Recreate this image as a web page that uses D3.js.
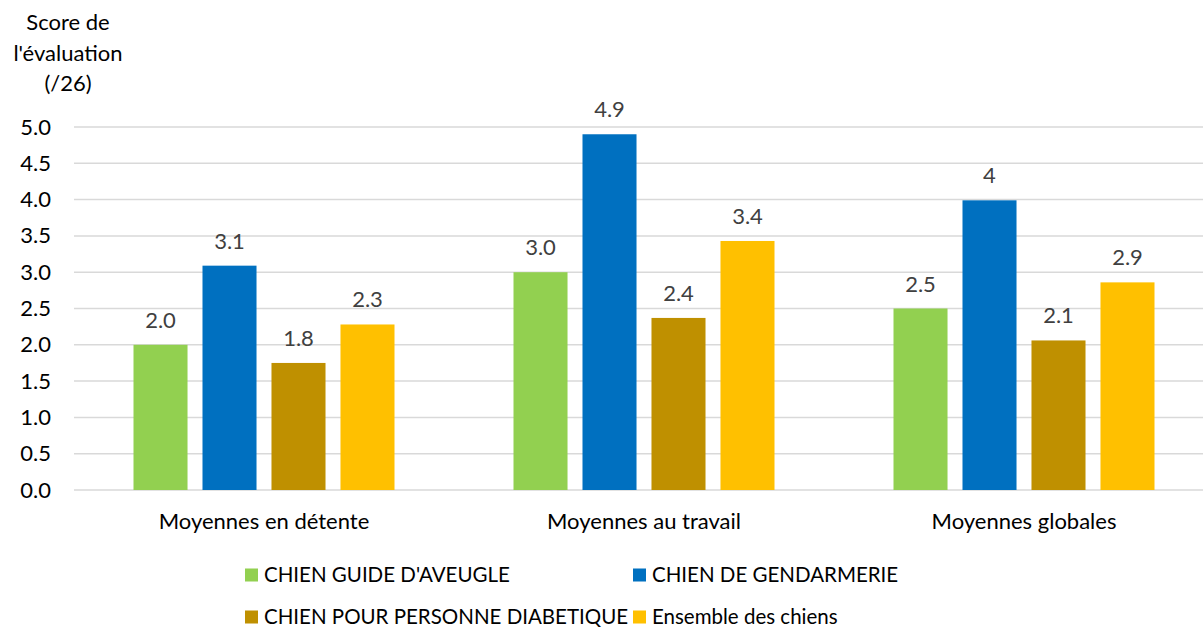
<!DOCTYPE html>
<html>
<head>
<meta charset="utf-8">
<script src="https://cdn.jsdelivr.net/npm/d3@7/dist/d3.min.js"></script>
<style>
  html, body { margin: 0; padding: 0; background: #fff; }
  svg { display: block; font-family: Lato, "Liberation Sans", sans-serif; }
</style>
</head>
<body>
<svg id="chart" width="1203" height="628"></svg>
<script>
const categories = ["Moyennes en détente", "Moyennes au travail", "Moyennes globales"];
const seriesNames = ["CHIEN GUIDE D'AVEUGLE", "CHIEN DE GENDARMERIE", "CHIEN POUR PERSONNE DIABETIQUE", "Ensemble des chiens"];
const seriesColors = ["#92d050", "#0070c0", "#bf9000", "#ffc000"];
const guideValues = [2.0, 3.0, 2.5];
const gendarmerieValues = [3.09, 4.9, 3.99];
const diabetiqueValues = [1.75, 2.37, 2.06];
const ensembleValues = [2.28, 3.43, 2.86];
const guideLabels = ["2.0", "3.0", "2.5"];
const gendarmerieLabels = ["3.1", "4.9", "4"];
const diabetiqueLabels = ["1.8", "2.4", "2.1"];
const ensembleLabels = ["2.3", "3.4", "2.9"];
const yTicks = [0, 0.5, 1, 1.5, 2, 2.5, 3, 3.5, 4, 4.5, 5];
const yTitle = ["Score de", "l'évaluation", "(/26)"];

const seriesValues = [guideValues, gendarmerieValues, diabetiqueValues, ensembleValues];
const seriesLabels = [guideLabels, gendarmerieLabels, diabetiqueLabels, ensembleLabels];

const svg = d3.select("#chart");
const plotLeft = 74, plotRight = 1214, plotTop = 127, plotBottom = 490;

const x0 = d3.scaleBand().domain(categories).range([plotLeft, plotRight]).padding(0);
const x1 = d3.scaleBand().domain(d3.range(seriesNames.length))
  .range([59.5, x0.bandwidth() - 59.5]).paddingInner(0.217).paddingOuter(0);
const y = d3.scaleLinear().domain([0, 5]).range([plotBottom, plotTop]);

// gridlines
svg.append("g").selectAll("line").data(yTicks).join("line")
  .attr("x1", plotLeft).attr("x2", 1203)
  .attr("y1", d => y(d)).attr("y2", d => y(d))
  .attr("stroke", "#d9d9d9").attr("stroke-width", 1.5);

// y axis labels
const yAxis = d3.axisLeft(y).tickValues(yTicks).tickFormat(d3.format(".1f")).tickSize(0).tickPadding(0);
const ya = svg.append("g").attr("transform", `translate(51,0)`).call(yAxis);
ya.select(".domain").remove();
ya.selectAll("text").attr("font-size", 22).attr("fill", "#000").attr("font-family", "Lato, sans-serif");

// y title
svg.append("g").selectAll("text").data(yTitle).join("text")
  .attr("x", 68).attr("y", (d, i) => 30 + i * 30.5)
  .attr("text-anchor", "middle").attr("font-size", 22).attr("fill", "#000")
  .text(d => d);

// bars
const groups = svg.append("g").selectAll("g").data(categories).join("g")
  .attr("transform", d => `translate(${x0(d)},0)`);

groups.selectAll("rect").data((c, ci) => seriesValues.map((vals, si) => ({si, v: vals[ci]})))
  .join("rect")
  .attr("x", d => x1(d.si)).attr("width", x1.bandwidth())
  .attr("y", d => y(d.v)).attr("height", d => y(0) - y(d.v))
  .attr("fill", d => seriesColors[d.si]);

groups.selectAll("text.lbl").data((c, ci) => seriesValues.map((vals, si) => ({si, v: vals[ci], t: seriesLabels[si][ci]})))
  .join("text").attr("class", "lbl")
  .attr("x", d => x1(d.si) + x1.bandwidth() / 2)
  .attr("y", d => y(d.v) - 17)
  .attr("text-anchor", "middle").attr("font-size", 22).attr("fill", "#404040")
  .text(d => d.t);

// x axis labels
const xAxis = d3.axisBottom(x0).tickSize(0).tickPadding(0);
const xa = svg.append("g").attr("transform", `translate(0,${plotBottom})`).call(xAxis);
xa.select(".domain").remove();
xa.selectAll("text").attr("font-size", 22).attr("fill", "#000").attr("font-family", "Lato, sans-serif")
  .attr("dy", 0).attr("y", 39);

// legend
const legendX = [245, 633, 245, 633];
const legendY = [575, 575, 617, 617];
const leg = svg.append("g").selectAll("g").data(seriesNames).join("g")
  .attr("transform", (d, i) => `translate(${legendX[i]},${legendY[i]})`);
leg.append("rect").attr("x", 0).attr("y", -6.5).attr("width", 13).attr("height", 13)
  .attr("fill", (d, i) => seriesColors[i]);
leg.append("text").attr("x", 19).attr("y", 7).attr("font-size", 20.5).attr("fill", "#000").text(d => d);
</script>
</body>
</html>
